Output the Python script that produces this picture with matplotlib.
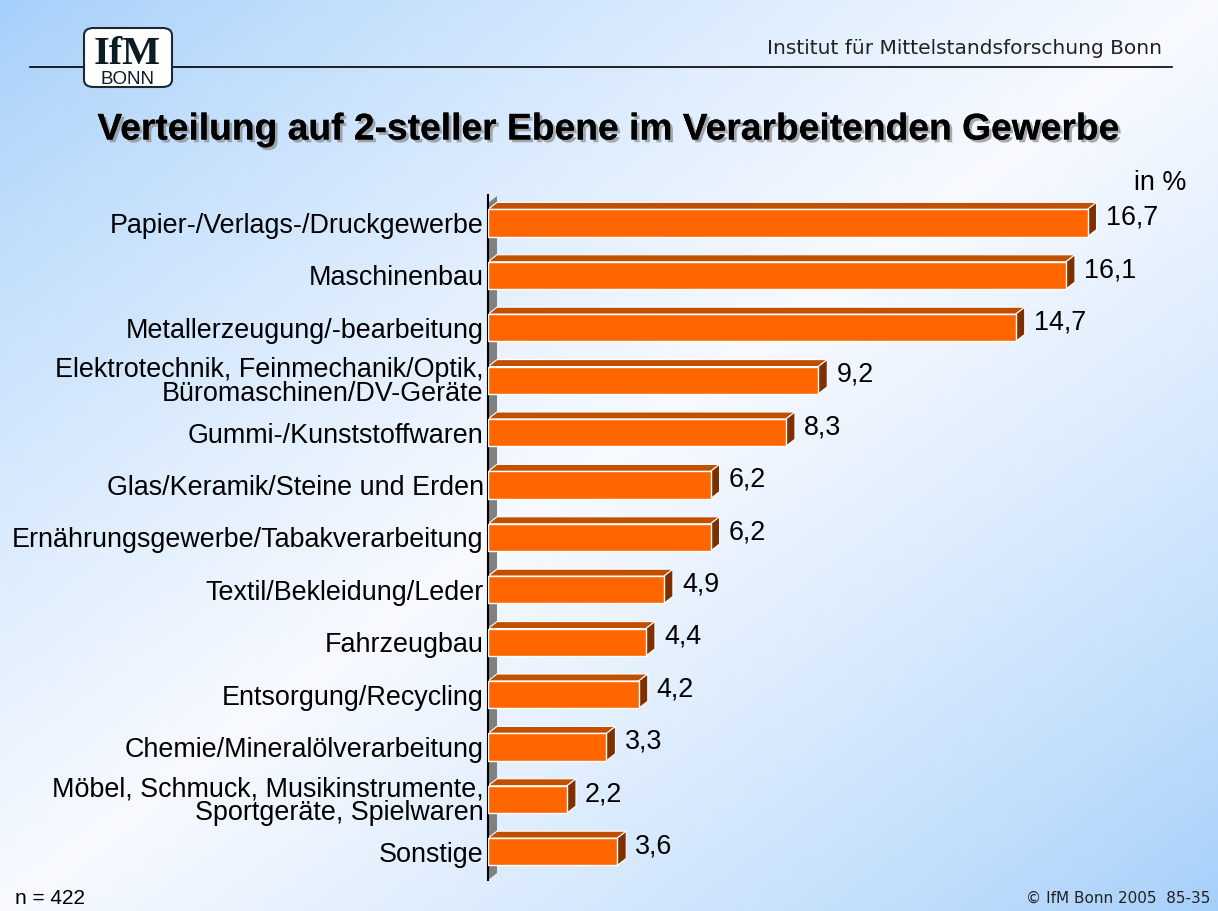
import numpy as np
import matplotlib.pyplot as plt
from matplotlib.patches import Polygon, FancyBboxPatch
import matplotlib.patheffects as pe

# Anteile der Branchen (in %)
branchen = [
    "Papier-/Verlags-/Druckgewerbe",
    "Maschinenbau",
    "Metallerzeugung/-bearbeitung",
    "Elektrotechnik, Feinmechanik/Optik,\nBüromaschinen/DV-Geräte",
    "Gummi-/Kunststoffwaren",
    "Glas/Keramik/Steine und Erden",
    "Ernährungsgewerbe/Tabakverarbeitung",
    "Textil/Bekleidung/Leder",
    "Fahrzeugbau",
    "Entsorgung/Recycling",
    "Chemie/Mineralölverarbeitung",
    "Möbel, Schmuck, Musikinstrumente,\nSportgeräte, Spielwaren",
    "Sonstige",
]
anteile = [16.7, 16.1, 14.7, 9.2, 8.3, 6.2, 6.2, 4.9, 4.4, 4.2, 3.3, 2.2, 3.6]

W, H = 1218, 911
plt.rcParams['font.family'] = ['Liberation Sans', 'DejaVu Sans']
fig = plt.figure(figsize=(W / 100, H / 100), dpi=100)

# Hintergrund: blau oben links und unten rechts, weiss auf der Diagonale
bg = fig.add_axes([0, 0, 1, 1])
xx, yy = np.meshgrid(np.linspace(0, 1, 300), np.linspace(0, 1, 230))
t = (xx + (1 - yy)) / 2.0
w = 1 - np.abs(t - 0.5) * 2
w = np.clip(w, 0, 1) ** 0.8
blau = np.array([0.64, 0.81, 0.98])
weiss = np.array([0.97, 0.98, 1.0])
img = blau[None, None, :] * (1 - w[..., None]) + weiss[None, None, :] * w[..., None]
bg.imshow(img, extent=[0, 1, 0, 1], origin='lower', aspect='auto', zorder=0)
bg.set_xlim(0, 1)
bg.set_ylim(0, 1)
bg.axis('off')

def px(x, y):
    return x / W, 1 - y / H

# Kopfzeile mit Linie und Logo
bg.plot([30 / W, 1172 / W], [1 - 67 / H, 1 - 67 / H], color='black', lw=1.2, zorder=2)
fig.text(*px(1162, 48), "Institut für Mittelstandsforschung Bonn", ha='right', va='center',
         fontsize=14.5, family=['DejaVu Sans'], color='#222222')
logo = FancyBboxPatch(px(84, 87), 88 / W, 59 / H, boxstyle="round,pad=0,rounding_size=0.008",
                      transform=fig.transFigure, facecolor='white', edgecolor='#1a2a30', lw=1.5, zorder=3)
fig.patches.append(logo)
fig.text(*px(127, 64), "IfM", ha='center', va='baseline', fontsize=29, family=['Liberation Serif'],
         fontweight='bold', color='#0c1c24', zorder=4)
fig.text(*px(128, 84), "BONN", ha='center', va='baseline', fontsize=13.5, color='#0c1c24', zorder=4)

# Titel mit Schatten
fig.text(*px(609, 130), "Verteilung auf 2-steller Ebene im Verarbeitenden Gewerbe", ha='center', va='center',
         fontsize=26.8, fontweight='bold', color='black',
         path_effects=[pe.withSimplePatchShadow(offset=(2, -2), shadow_rgbFace='#888888', alpha=0.7), pe.Normal()])

# Diagrammbereich
x0, x1 = 488, 1190
y0, y1 = 195, 880
ax = fig.add_axes([x0 / W, 1 - y1 / H, (x1 - x0) / W, (y1 - y0) / H])
ax.patch.set_alpha(0)
xmax = (x1 - x0) / 35.9
ax.set_xlim(0, xmax)
pos = np.arange(len(branchen))
ytop = (195 - 223) / 52.4
ybot = (880 - 223) / 52.4
ax.set_ylim(ybot, ytop)

dx = 9 / 35.9
dy = 7 / 52.4
bh = 0.52

# graue Seitenwand links
wand = Polygon([(0, ybot), (dx, ybot - dy), (dx, ytop + 0.02), (0, ytop + dy + 0.02)], closed=True,
               facecolor='#808080', edgecolor='none', zorder=1)
ax.add_patch(wand)

ax.barh(pos, anteile, height=bh, color='#ff6600', edgecolor='white', linewidth=1.0, zorder=3)
for p, v in zip(pos, anteile):
    oben = p - bh / 2
    unten = p + bh / 2
    ax.add_patch(Polygon([(0, oben), (dx, oben - dy), (v + dx, oben - dy), (v, oben)], closed=True,
                         facecolor='#c05000', edgecolor='white', linewidth=0.8, zorder=2))
    ax.add_patch(Polygon([(v, oben), (v + dx, oben - dy), (v + dx, unten - dy), (v, unten)], closed=True,
                         facecolor='#803000', edgecolor='white', linewidth=0.8, zorder=2))
    ax.text(v + dx + 0.25, p - 0.1, f"{v:.1f}".replace('.', ','), ha='left', va='center', fontsize=19.4)

ax.set_yticks(pos)
ax.set_yticklabels(branchen, fontsize=19.4, linespacing=0.88)
ax.tick_params(axis='y', length=0, pad=3)
ax.set_xticks([])
for s in ['top', 'right', 'bottom']:
    ax.spines[s].set_visible(False)
ax.spines['left'].set_linewidth(1.5)

fig.text(*px(1186, 183), "in %", ha='right', va='center', fontsize=19.4)
fig.text(*px(15, 898), "n = 422", ha='left', va='center', fontsize=15)
fig.text(*px(1210, 898), "© IfM Bonn 2005  85-35", ha='right', va='center', fontsize=11,
         family=['DejaVu Sans'], color='#222222')

fig.savefig("out.png", dpi=100)
